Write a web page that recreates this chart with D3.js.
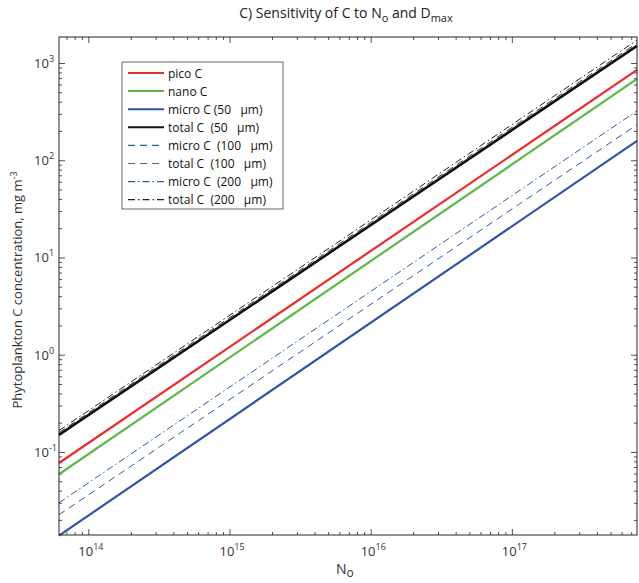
<!DOCTYPE html>
<html>
<head>
<meta charset="utf-8">
<script src="https://cdn.jsdelivr.net/npm/d3@7"></script>
<style>
  body { margin: 0; background: #fff; }
  text { font-family: "Open Sans", "Noto Sans", sans-serif; }
</style>
</head>
<body>
<div id="chart"></div>
<script>
// values (line end points at the plot edges)
const nO = [6.2e13, 7.7e17];
const picoC = [0.077, 850];
const nanoC = [0.059, 685];
const micro50 = [0.0138, 158];
const total50 = [0.150, 1500];
const micro100 = [0.0226, 232];
const total100 = [0.158, 1600];
const micro200 = [0.030, 322];
const total200 = [0.166, 1720];

const seriesNames = ["pico C", "nano C", "micro C (50   \u00b5m)", "total C  (50   \u00b5m)",
  "micro C  (100   \u00b5m)", "total C  (100   \u00b5m)", "micro C  (200   \u00b5m)", "total C  (200   \u00b5m)"];
const xTicks = [1e14, 1e15, 1e16, 1e17];
const yTicks = [0.1, 1, 10, 100, 1000];
const yTickExp = ["-1", "0", "1", "2", "3"];
const xTickExp = ["14", "15", "16", "17"];

const margin = {top: 37, right: 2, bottom: 48, left: 59},
    width = 639 - margin.left - margin.right,
    height = 583 - margin.top - margin.bottom;

const svg = d3.select("#chart").append("svg")
    .attr("width", 639).attr("height", 583)

const g = svg.append("g")
    .attr("transform", `translate(${margin.left},${margin.top})`);

const x = d3.scaleLog().domain([6.2e13, 7.7e17]).range([0, width]);
const y = d3.scaleLog().domain([0.014, 1850]).range([height, 0]);

const axisCol = "#262626";

// minor + major ticks, inward, on all four sides
function minorTicks(scale) {
  return scale.ticks().filter(v => {
    const e = Math.log10(v);
    return Math.abs(e - Math.round(e)) > 1e-6;
  });
}
const xMinor = minorTicks(x), yMinor = minorTicks(y);

g.append("g").attr("transform", `translate(0,${height})`)
  .call(d3.axisBottom(x).tickValues(xMinor).tickSize(-3).tickFormat("").tickSizeOuter(0));
g.append("g").attr("transform", `translate(0,${height})`)
  .call(d3.axisBottom(x).tickValues(xTicks).tickSize(-6).tickFormat("").tickSizeOuter(0));
g.append("g")
  .call(d3.axisTop(x).tickValues(xMinor).tickSize(-3).tickFormat("").tickSizeOuter(0));
g.append("g")
  .call(d3.axisTop(x).tickValues(xTicks).tickSize(-6).tickFormat("").tickSizeOuter(0));
g.append("g")
  .call(d3.axisLeft(y).tickValues(yMinor).tickSize(-3).tickFormat("").tickSizeOuter(0));
g.append("g")
  .call(d3.axisLeft(y).tickValues(yTicks).tickSize(-6).tickFormat("").tickSizeOuter(0));
g.append("g").attr("transform", `translate(${width},0)`)
  .call(d3.axisRight(y).tickValues(yMinor).tickSize(-3).tickFormat("").tickSizeOuter(0));
g.append("g").attr("transform", `translate(${width},0)`)
  .call(d3.axisRight(y).tickValues(yTicks).tickSize(-6).tickFormat("").tickSizeOuter(0));

g.selectAll(".domain").remove();
g.selectAll(".tick line").attr("stroke", axisCol).attr("stroke-width", 0.8);

// series lines
const lines = [
  {vals: micro200, color: "#2f55a8", w: 1, dash: "7,3,1.5,3"},
  {vals: micro100, color: "#2f55a8", w: 1, dash: "7,5"},
  {vals: micro50, color: "#2f55a8", w: 2.2, dash: null},
  {vals: nanoC, color: "#5cb946", w: 2.2, dash: null},
  {vals: picoC, color: "#ee2a2a", w: 2.2, dash: null},
  {vals: total200, color: "#222", w: 1, dash: "7,3,1.5,3"},
  {vals: total100, color: "#333", w: 1, dash: "7,5"},
  {vals: total50, color: "#111", w: 2.6, dash: null}
];
const line = d3.line().x(d => x(d[0])).y(d => y(d[1]));

g.append("g").selectAll("path")
  .data(lines)
  .enter().append("path")
    .attr("d", d => line(nO.map((n, i) => [n, d.vals[i]])))
    .attr("fill", "none")
    .attr("stroke", d => d.color)
    .attr("stroke-width", d => d.w)
    .attr("stroke-dasharray", d => d.dash);

// plot box
g.append("rect")
  .attr("width", width).attr("height", height)
  .attr("fill", "none").attr("stroke", axisCol).attr("stroke-width", 1);

// tick labels
const xl = g.append("g").attr("fill", "#333");
xTicks.forEach((v, i) => {
  const t = xl.append("text")
    .attr("x", x(v) - 10).attr("y", height + 21)
    .attr("font-size", 13);
  t.append("tspan").text("10");
  t.append("tspan").attr("dy", -6).attr("font-size", 9).text(xTickExp[i]);
});
yTicks.forEach((v, i) => {
  const t = xl.append("text")
    .attr("x", -25).attr("y", y(v) + 5)
    .attr("font-size", 13);
  t.append("tspan").text("10");
  t.append("tspan").attr("dy", -6).attr("font-size", 9).text(yTickExp[i]);
});

// title
const title = svg.append("text")
  .attr("x", margin.left + width / 2 - 2).attr("y", 18)
  .attr("text-anchor", "middle").attr("font-size", 14).attr("fill", "#222");
title.append("tspan").text("C) Sensitivity of C to N");
title.append("tspan").attr("dy", 4).attr("font-size", 11).text("o");
title.append("tspan").attr("dy", -4).text(" and D");
title.append("tspan").attr("dy", 4).attr("font-size", 11).text("max");

// axis labels
const xlab = svg.append("text")
  .attr("x", margin.left + width / 2 - 12).attr("y", 574)
  .attr("font-size", 14).attr("fill", "#333");
xlab.append("tspan").text("N");
xlab.append("tspan").attr("dy", 3).attr("font-size", 12).text("o");

const ylab = svg.append("text")
  .attr("transform", `translate(22,${margin.top + height / 2 + 4}) rotate(-90)`)
  .attr("text-anchor", "middle").attr("font-size", 13).attr("fill", "#333");
ylab.append("tspan").text("Phytoplankton C concentration, mg m");
ylab.append("tspan").attr("dy", -5).attr("font-size", 9).text("-3");

// legend
const legend = svg.append("g").attr("transform", "translate(122,62)");
legend.append("rect")
  .attr("width", 161).attr("height", 147)
  .attr("fill", "#fff").attr("stroke", "#444").attr("stroke-width", 0.8);
const legendStyle = [lines[4], lines[3], lines[2], lines[7], lines[1], lines[6], lines[0], lines[5]];
const legendColors = [null, null, null, null, null, "#666", null, null];
seriesNames.forEach((name, i) => {
  const s = legendStyle[i];
  const yy = 11 + i * 18.1;
  legend.append("line")
    .attr("x1", 6).attr("x2", 42).attr("y1", yy).attr("y2", yy)
    .attr("stroke", legendColors[i] || s.color)
    .attr("stroke-width", s.w === 1 ? 1.2 : 2)
    .attr("stroke-dasharray", s.dash);
  legend.append("text")
    .attr("x", 46).attr("y", yy + 4.5)
    .attr("font-size", 12).attr("fill", "#111")
    .style("white-space", "pre")
    .text(name);
});
</script>
</body>
</html>
